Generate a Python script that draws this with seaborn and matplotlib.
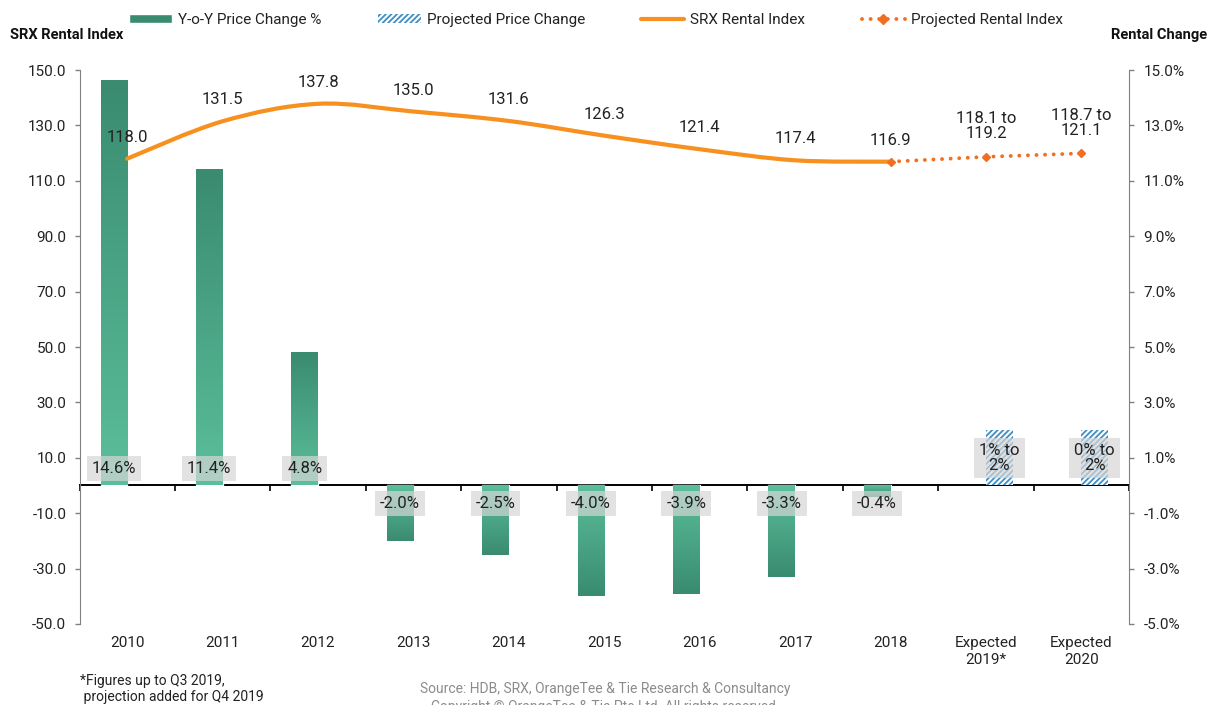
import numpy as np
import pandas as pd
import matplotlib
matplotlib.use('Agg')
import matplotlib.pyplot as plt
import seaborn as sns
from matplotlib.path import Path
from matplotlib.patches import PathPatch, Patch
from matplotlib.lines import Line2D
from matplotlib.colors import LinearSegmentedColormap

# data
years = ['2010', '2011', '2012', '2013', '2014', '2015', '2016', '2017', '2018',
         'Expected\n2019*', 'Expected\n2020']
price_change = [14.6, 11.4, 4.8, -2.0, -2.5, -4.0, -3.9, -3.3, -0.4]
projected_change = [2.0, 2.0]
projected_change_labels = ['1% to\n2%', '0% to\n2%']
rental_index = [118.0, 131.5, 137.8, 135.0, 131.6, 126.3, 121.4, 117.4, 116.9]
projected_index = [118.65, 119.9]
projected_index_labels = ['118.1 to\n119.2', '118.7 to\n121.1']

series_names = ['Y-o-Y Price Change %', 'Projected Price Change']

green_light = '#5BBF9B'
green_dark = '#3A8B70'
hatch_blue = '#3E8EC4'
orange = '#F7901E'
orange_dark = '#F26F21'
text_col = '#222222'
spine_col = '#808080'

sns.set_style('white')
plt.rcParams['font.family'] = ['Roboto', 'DejaVu Sans']
plt.rcParams['hatch.linewidth'] = 1.3

n_act = len(price_change)
df = pd.DataFrame({
    'year': years[:n_act] + years[n_act:],
    'change': price_change + projected_change,
    'series': [series_names[0]] * n_act + [series_names[1]] * len(projected_change),
})

fig = plt.figure(figsize=(12.16, 7.05), dpi=100)
axb = fig.add_axes([0.0654, 0.1149, 0.9285 - 0.0654, 0.9007 - 0.1149])

sns.barplot(data=df, x='year', y='change', hue='series', order=years,
            hue_order=series_names, width=0.56, dodge=True, saturation=1,
            palette=[green_dark, 'white'], legend=False, ax=axb)

# gradient fill on the actual bars
cmap = LinearSegmentedColormap.from_list('bar_grad', [green_light, green_dark])
grad = np.linspace(0, 1, 256).reshape(-1, 1)
for bar in axb.containers[0]:
    x0, w, h = bar.get_x(), bar.get_width(), bar.get_height()
    axb.imshow(grad, extent=[x0, x0 + w, 0, h], origin='lower', cmap=cmap,
               aspect='auto', zorder=bar.get_zorder() + 0.1, interpolation='bilinear')

for bar in axb.containers[1]:
    bar.set_facecolor('white')
    bar.set_edgecolor(hatch_blue)
    bar.set_linewidth(0)
    bar.set_hatch('//////')

box = dict(boxstyle='square,pad=0.3', fc='#D6D6D6', ec='none', alpha=0.7)
for bar, val in zip(axb.containers[0], price_change):
    cx = bar.get_x() + bar.get_width() / 2
    off = 12.5 if val > 0 else -13
    axb.annotate(f'{val:.1f}%', (cx, 0), xytext=(0, off), textcoords='offset points',
                 ha='center', va='center', fontsize=12, color=text_col, bbox=box, zorder=5)
for bar, lbl in zip(axb.containers[1], projected_change_labels):
    cx = bar.get_x() + bar.get_width() / 2
    axb.annotate(lbl, (cx, 0), xytext=(0, 20), textcoords='offset points',
                 ha='center', va='center', fontsize=12, color=text_col, bbox=box,
                 linespacing=1.0, zorder=5)

axb.set_xlim(-0.5, len(years) - 0.5)
axb.set_ylim(-5, 15)
axb.set_yticks(np.arange(-5, 16, 2))
axb.set_yticklabels([f'{t:.1f}%' for t in np.arange(-5, 16, 2)])
axb.set_xlabel('')
axb.set_ylabel('')
axb.set_xticks(range(len(years)))
axb.set_xticklabels(years)
axb.tick_params(axis='x', length=0, pad=9, labelsize=11, labelcolor=text_col)
for s in ['top', 'bottom', 'left']:
    axb.spines[s].set_visible(False)
axb.spines['right'].set_color(spine_col)

# zero line with category separators
zero_loc = (0 - axb.get_ylim()[0]) / (axb.get_ylim()[1] - axb.get_ylim()[0])
sec = axb.secondary_xaxis(zero_loc)
sec.set_xticks(np.arange(len(years) + 1) - 0.5)
sec.tick_params(length=4, width=1.2, color='black', labelbottom=False, labeltop=False)
sec.spines['bottom'].set_color('black')
sec.spines['bottom'].set_linewidth(1.4)

# rental index line (smoothed) on the left axis
axl = axb.twinx()
axl.yaxis.tick_left()
axb.yaxis.tick_right()
axb.tick_params(axis='y', direction='out', length=3.5, width=1, color=spine_col,
                pad=7, labelsize=11, labelcolor=text_col)

xs = np.arange(len(rental_index))
pts = np.column_stack([xs, rental_index])
ext = np.vstack([pts[0], pts, pts[-1]])
verts, codes = [pts[0]], [Path.MOVETO]
for i in range(len(pts) - 1):
    p0, p1, p2, p3 = ext[i], ext[i + 1], ext[i + 2], ext[i + 3]
    verts += [p1 + (p2 - p0) / 6, p2 - (p3 - p1) / 6, p2]
    codes += [Path.CURVE4] * 3
axl.add_patch(PathPatch(Path(verts, codes), fill=False, edgecolor=orange, lw=3,
                        capstyle='round', zorder=3))

proj_x = np.arange(len(rental_index) - 1, len(rental_index) + len(projected_index))
proj_y = [rental_index[-1]] + projected_index
axl.plot(proj_x, proj_y, color=orange_dark, lw=2.8, ls=(0, (0.01, 2.2)),
         dash_capstyle='round', marker='D', ms=4, zorder=4)

for i, v in enumerate(rental_index):
    axl.annotate(f'{v:.1f}', (i, v), xytext=(0, 15.5), textcoords='offset points',
                 ha='center', va='center', fontsize=12, color=text_col)
for i, v, lbl in zip(proj_x[1:], projected_index, projected_index_labels):
    axl.annotate(lbl, (i, v), xytext=(0, 22), textcoords='offset points',
                 ha='center', va='center', fontsize=12, color=text_col, linespacing=1.0)

axl.set_ylim(-50, 150)
axl.set_yticks(np.arange(-50, 151, 20))
axl.set_yticklabels([f'{t:.1f}' for t in np.arange(-50, 151, 20)])
axl.tick_params(axis='y', direction='out', length=3.5, width=1, color=spine_col,
                pad=6, labelsize=11, labelcolor=text_col)
for s in ['top', 'bottom', 'right']:
    axl.spines[s].set_visible(False)
axl.spines['left'].set_color(spine_col)

# titles and legend
fig.text(10 / 1216, 1 - 35 / 705, 'SRX Rental Index', ha='left', va='center',
         fontsize=10.5, fontweight='bold', color='#111111')
fig.text(1207 / 1216, 1 - 35 / 705, 'Rental Change', ha='right', va='center',
         fontsize=10.5, fontweight='bold', color='#111111')

handles = [
    Patch(facecolor=green_dark),
    Patch(facecolor='white', edgecolor=hatch_blue, hatch='//////', lw=0),
    Line2D([], [], color=orange, lw=3),
    Line2D([], [], color=orange_dark, lw=2.8, ls=(0, (0.01, 2.2)), dash_capstyle='round',
           marker='D', ms=5),
]
labels = series_names + ['SRX Rental Index', 'Projected Rental Index']
fig.legend(handles, labels, loc='center', bbox_to_anchor=(0.49, 1 - 20 / 705), ncol=4,
           frameon=False, fontsize=11, handlelength=2.8, handleheight=0.6,
           columnspacing=3.7, handletextpad=0.4, labelcolor=text_col)

fig.text(80 / 1216, 1 - 689 / 705, '*Figures up to Q3 2019,\n projection added for Q4 2019',
         ha='left', va='center', fontsize=10, color=text_col, linespacing=1.15)
fig.text(0.498, 1 - 689 / 705, 'Source: HDB, SRX, OrangeTee & Tie Research & Consultancy',
         ha='center', va='center', fontsize=10, color='#8C8C8C')
fig.text(0.498, 1 - 707 / 705, 'Copyright \u00a9 OrangeTee & Tie Pte Ltd. All rights reserved.',
         ha='center', va='center', fontsize=10, color='#8C8C8C')

fig.savefig('out.png', dpi=100)
